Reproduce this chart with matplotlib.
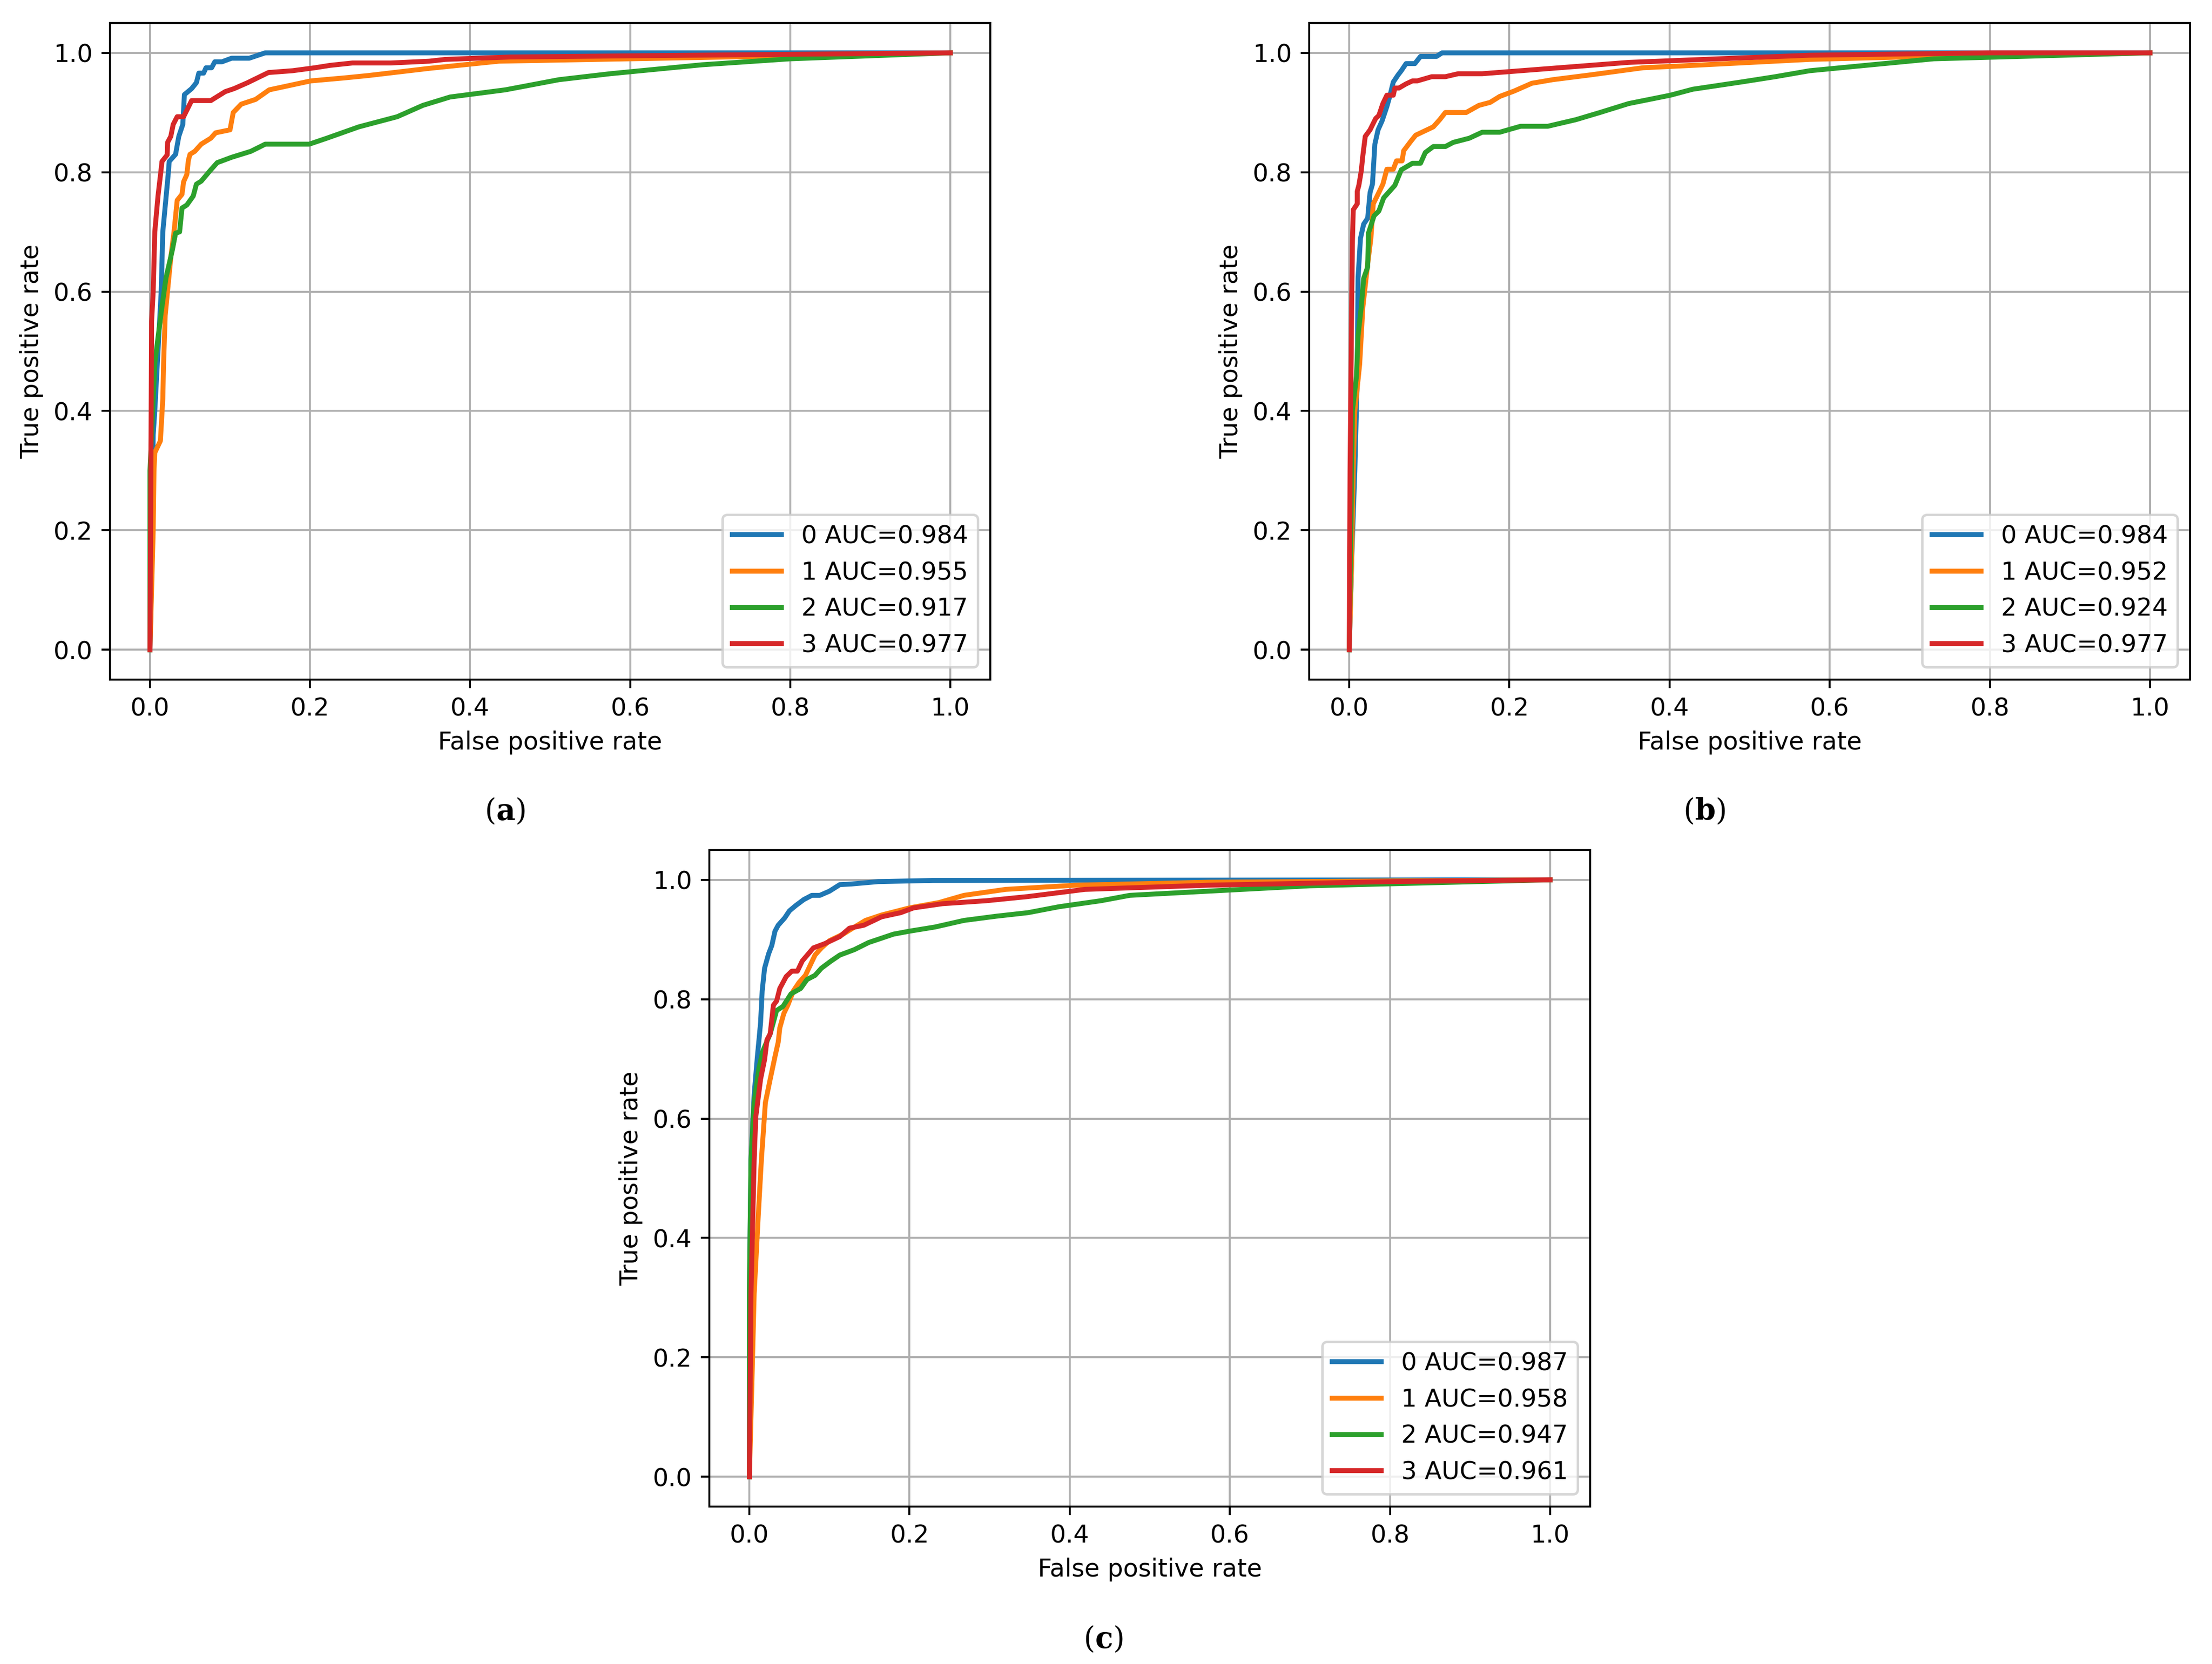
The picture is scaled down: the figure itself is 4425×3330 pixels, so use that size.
import matplotlib
matplotlib.use('Agg')
import matplotlib.pyplot as plt

plt.rcParams['mathtext.fontset'] = 'dejavuserif'

classes = ['0', '1', '2', '3']

# panel (a)
a_fpr = [
    [0, 0.002, 0.004, 0.006, 0.014, 0.016, 0.023, 0.024, 0.032, 0.036, 0.041, 0.043, 0.052, 0.058, 0.061, 0.067,
     0.070, 0.077, 0.081, 0.090, 0.102, 0.124, 0.144, 1.0],
    [0, 0.004, 0.005, 0.006, 0.013, 0.016, 0.017, 0.019, 0.026, 0.030, 0.034, 0.040, 0.042, 0.046, 0.048, 0.050,
     0.056, 0.064, 0.076, 0.082, 0.100, 0.104, 0.114, 0.132, 0.149, 0.201, 0.243, 0.273, 0.349, 0.436, 0.6, 0.8, 1.0],
    [0, 0.0, 0.006, 0.014, 0.020, 0.028, 0.032, 0.037, 0.040, 0.046, 0.054, 0.058, 0.064, 0.076, 0.084, 0.102,
     0.126, 0.144, 0.199, 0.221, 0.261, 0.309, 0.341, 0.375, 0.444, 0.511, 0.575, 0.69, 0.8, 1.0],
    [0, 0.002, 0.004, 0.006, 0.010, 0.0135, 0.015, 0.0215, 0.022, 0.026, 0.029, 0.034, 0.042, 0.052, 0.076, 0.082,
     0.094, 0.105, 0.122, 0.148, 0.178, 0.206, 0.225, 0.253, 0.301, 0.349, 0.369, 0.45, 0.6, 1.0],
]
a_tpr = [
    [0, 0.12, 0.36, 0.40, 0.60, 0.70, 0.80, 0.818, 0.83, 0.86, 0.88, 0.93, 0.94, 0.95, 0.966, 0.966,
     0.975, 0.975, 0.985, 0.985, 0.991, 0.991, 1.0, 1.0],
    [0, 0.2, 0.30, 0.33, 0.35, 0.42, 0.48, 0.56, 0.657, 0.70, 0.753, 0.763, 0.784, 0.796, 0.82, 0.83,
     0.835, 0.847, 0.857, 0.866, 0.871, 0.90, 0.914, 0.922, 0.938, 0.953, 0.958, 0.962, 0.974, 0.986, 0.99, 0.995, 1.0],
    [0, 0.30, 0.48, 0.565, 0.623, 0.67, 0.698, 0.70, 0.74, 0.745, 0.76, 0.78, 0.785, 0.804, 0.816, 0.825,
     0.835, 0.847, 0.847, 0.857, 0.876, 0.893, 0.912, 0.926, 0.938, 0.955, 0.965, 0.98, 0.99, 1.0],
    [0, 0.55, 0.60, 0.70, 0.76, 0.80, 0.818, 0.829, 0.85, 0.86, 0.88, 0.893, 0.893, 0.92, 0.92, 0.925,
     0.935, 0.94, 0.95, 0.967, 0.970, 0.975, 0.979, 0.983, 0.983, 0.986, 0.989, 0.993, 0.995, 1.0],
]
a_auc = [0.984, 0.955, 0.917, 0.977]

# panel (b)
b_fpr = [
    [0, 0.003, 0.007, 0.010, 0.011, 0.014, 0.018, 0.023, 0.026, 0.029, 0.032, 0.036, 0.041, 0.047, 0.051, 0.055,
     0.061, 0.065, 0.071, 0.082, 0.089, 0.109, 0.116, 1.0],
    [0, 0.003, 0.005, 0.007, 0.013, 0.017, 0.023, 0.027, 0.030, 0.037, 0.042, 0.047, 0.055, 0.059, 0.066, 0.068,
     0.077, 0.083, 0.105, 0.113, 0.12, 0.146, 0.162, 0.176, 0.188, 0.206, 0.228, 0.254, 0.301, 0.367, 0.429,
     0.575, 0.75, 1.0],
    [0, 0.002, 0.003, 0.004, 0.009, 0.011, 0.015, 0.018, 0.023, 0.024, 0.031, 0.037, 0.043, 0.049, 0.057, 0.065,
     0.079, 0.089, 0.095, 0.105, 0.12, 0.13, 0.15, 0.166, 0.188, 0.214, 0.248, 0.283, 0.313, 0.349, 0.401, 0.429,
     0.489, 0.532, 0.575, 0.73, 1.0],
    [0, 0.001, 0.003, 0.004, 0.005, 0.010, 0.010, 0.012, 0.015, 0.017, 0.020, 0.026, 0.033, 0.037, 0.042, 0.047,
     0.055, 0.057, 0.062, 0.071, 0.079, 0.085, 0.103, 0.12, 0.136, 0.166, 0.349, 0.575, 0.8, 1.0],
]
b_tpr = [
    [0, 0.15, 0.30, 0.456, 0.622, 0.689, 0.713, 0.723, 0.766, 0.78, 0.847, 0.871, 0.886, 0.91, 0.929, 0.951,
     0.963, 0.97, 0.982, 0.982, 0.994, 0.994, 1.0, 1.0],
    [0, 0.15, 0.30, 0.40, 0.478, 0.574, 0.646, 0.689, 0.747, 0.766, 0.78, 0.805, 0.805, 0.819, 0.819, 0.836,
     0.852, 0.862, 0.876, 0.888, 0.90, 0.90, 0.912, 0.917, 0.927, 0.936, 0.949, 0.955, 0.963, 0.975, 0.979,
     0.989, 0.995, 1.0],
    [0, 0.2, 0.30, 0.40, 0.458, 0.526, 0.574, 0.622, 0.641, 0.698, 0.727, 0.735, 0.757, 0.766, 0.778, 0.804,
     0.815, 0.815, 0.833, 0.843, 0.843, 0.85, 0.857, 0.867, 0.867, 0.877, 0.877, 0.888, 0.90, 0.915, 0.929, 0.939,
     0.951, 0.96, 0.97, 0.99, 1.0],
    [0, 0.30, 0.574, 0.684, 0.737, 0.747, 0.768, 0.778, 0.802, 0.828, 0.86, 0.871, 0.89, 0.895, 0.915, 0.929,
     0.929, 0.941, 0.941, 0.948, 0.953, 0.953, 0.96, 0.96, 0.965, 0.965, 0.984, 0.996, 1.0, 1.0],
]
b_auc = [0.984, 0.952, 0.924, 0.977]

# panel (c)
c_fpr = [
    [0, 0.0, 0.002, 0.006, 0.010, 0.012, 0.014, 0.016, 0.019, 0.024, 0.028, 0.032, 0.036, 0.044, 0.05, 0.058,
     0.068, 0.078, 0.088, 0.10, 0.113, 0.127, 0.161, 0.229, 1.0],
    [0, 0.003, 0.006, 0.011, 0.015, 0.020, 0.026, 0.032, 0.036, 0.038, 0.043, 0.048, 0.055, 0.062, 0.07, 0.076,
     0.082, 0.09, 0.10, 0.117, 0.129, 0.145, 0.165, 0.2, 0.237, 0.268, 0.32, 0.407, 0.573, 1.0],
    [0, 0.0, 0.002, 0.006, 0.012, 0.017, 0.026, 0.034, 0.042, 0.052, 0.064, 0.072, 0.082, 0.09, 0.102, 0.113,
     0.131, 0.149, 0.18, 0.2, 0.232, 0.268, 0.308, 0.348, 0.387, 0.439, 0.475, 0.573, 0.7, 1.0],
    [0, 0.002, 0.006, 0.008, 0.014, 0.019, 0.022, 0.026, 0.030, 0.034, 0.038, 0.046, 0.053, 0.06, 0.066, 0.08,
     0.094, 0.113, 0.125, 0.143, 0.165, 0.189, 0.205, 0.241, 0.296, 0.348, 0.419, 0.573, 0.8, 1.0],
]
c_tpr = [
    [0, 0.307, 0.531, 0.641, 0.704, 0.732, 0.761, 0.814, 0.852, 0.876, 0.89, 0.914, 0.924, 0.936, 0.948, 0.957,
     0.967, 0.974, 0.974, 0.981, 0.992, 0.993, 0.997, 0.999, 1.0],
    [0, 0.15, 0.307, 0.435, 0.531, 0.627, 0.666, 0.704, 0.728, 0.752, 0.776, 0.79, 0.814, 0.828, 0.84, 0.857,
     0.874, 0.886, 0.898, 0.909, 0.919, 0.932, 0.941, 0.953, 0.962, 0.974, 0.984, 0.991, 0.996, 1.0],
    [0, 0.307, 0.531, 0.627, 0.685, 0.714, 0.742, 0.781, 0.788, 0.809, 0.818, 0.833, 0.84, 0.852, 0.864, 0.874,
     0.883, 0.895, 0.909, 0.914, 0.921, 0.932, 0.939, 0.945, 0.955, 0.965, 0.974, 0.981, 0.99, 1.0],
    [0, 0.307, 0.531, 0.603, 0.666, 0.699, 0.732, 0.742, 0.79, 0.797, 0.818, 0.838, 0.847, 0.847, 0.864, 0.886,
     0.893, 0.905, 0.919, 0.924, 0.938, 0.945, 0.953, 0.96, 0.965, 0.972, 0.984, 0.991, 0.997, 1.0],
]
c_auc = [0.987, 0.958, 0.947, 0.961]

panels = [
    (a_fpr, a_tpr, a_auc, 'a'),
    (b_fpr, b_tpr, b_auc, 'b'),
    (c_fpr, c_tpr, c_auc, 'c'),
]

W, H, DPI = 4425, 3330, 355
fig = plt.figure(figsize=(W / DPI, H / DPI), dpi=DPI)

boxes = [
    [220 / W, 1 - 1360 / H, 1761 / W, 1314 / H],
    [2619 / W, 1 - 1360 / H, 1762 / W, 1314 / H],
    [1419 / W, 1 - 3015 / H, 1762 / W, 1314 / H],
]
caps = [(1010 / W, 1 - 1623 / H), (3409 / W, 1 - 1623 / H), (2207 / W, 1 - 3280 / H)]

for (fpr, tpr, auc, tag), box, cap in zip(panels, boxes, caps):
    ax = fig.add_axes(box)
    for i, c in enumerate(classes):
        ax.plot(fpr[i], tpr[i], lw=2, label=f'{c} AUC={auc[i]:.3f}')
    ax.set_xlabel('False positive rate')
    ax.set_ylabel('True positive rate')
    ax.grid(True)
    ax.legend(loc='lower right')
    fig.text(cap[0], cap[1], r'($\mathbf{' + tag + '}$)', ha='center', va='center',
             fontsize=12, family='DejaVu Serif')

fig.savefig('out.png', dpi=DPI)
